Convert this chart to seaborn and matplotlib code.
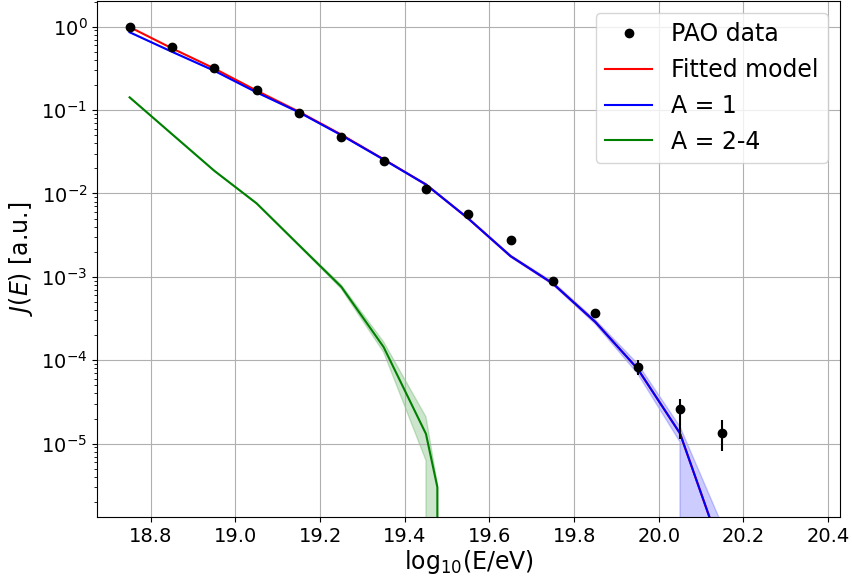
"""
PAO spectrum vs fitted composition model (A = 1 and A = 2-4 components)
"""

import numpy as np
import matplotlib
matplotlib.use("Agg")
import matplotlib.pyplot as plt
from matplotlib.lines import Line2D
import seaborn as sns

# PAO data points (log10 E, flux, error bounds)
pao_x = [18.75, 18.85, 18.95, 19.05, 19.15, 19.25, 19.35, 19.45,
         19.55, 19.65, 19.75, 19.85, 19.95, 20.05, 20.15]
pao_y = [1.0, 0.57, 0.319, 0.174, 0.093, 0.0474, 0.0242, 0.0113,
         0.00564, 0.00273, 0.000902, 0.000373, 8.3e-5, 2.57e-5, 1.35e-5]
pao_lo = [0.99, 0.565, 0.316, 0.172, 0.092, 0.0468, 0.0238, 0.0111,
          0.00552, 0.00264, 0.000864, 0.000351, 6.7e-5, 1.15e-5, 8.1e-6]
pao_hi = [1.01, 0.575, 0.322, 0.176, 0.094, 0.048, 0.0246, 0.0115,
          0.00576, 0.00282, 0.00094, 0.000395, 1.02e-4, 3.39e-5, 1.94e-5]

# model grid for fitted / A = 1
model_x = [18.75, 18.85, 18.95, 19.05, 19.15, 19.25, 19.35, 19.45, 19.55,
           19.65, 19.75, 19.85, 19.95, 20.05, 20.15, 20.25, 20.35]
fit_y = [0.99, 0.55, 0.315, 0.171, 0.0955, 0.0508, 0.0257, 0.0128, 0.0050,
         0.00177, 8.3e-4, 2.88e-4, 7.9e-5, 1.33e-5, 4.8e-7, 0.0, 0.0]
a1_y = [0.857, 0.50, 0.296, 0.163, 0.094, 0.050, 0.0255, 0.0128, 0.0050,
        0.00177, 8.3e-4, 2.88e-4, 7.9e-5, 1.33e-5, 4.8e-7, 0.0, 0.0]
a1_lo = [0.85, 0.496, 0.293, 0.161, 0.093, 0.0494, 0.0251, 0.0125, 0.0049,
         0.00172, 8.0e-4, 2.72e-4, 6.9e-5, 1.05e-5, 0.0, 0.0, 0.0]
a1_hi = [0.864, 0.504, 0.299, 0.165, 0.095, 0.0506, 0.0259, 0.0131, 0.0051,
         0.00182, 8.7e-4, 3.05e-4, 9.1e-5, 1.6e-5, 1.05e-6, 0.0, 0.0]

# A = 2-4 has its own cutoff point
a24_x = [18.75, 18.85, 18.95, 19.05, 19.15, 19.25, 19.35, 19.45, 19.477,
         19.55, 19.65, 19.75, 19.85, 19.95, 20.05, 20.15, 20.25, 20.35]
a24_y = [0.142, 0.0515, 0.0187, 0.0076, 0.0024, 7.6e-4, 1.44e-4, 1.31e-5, 3.0e-6,
         0.0, 0.0, 0.0, 0.0, 0.0, 0.0, 0.0, 0.0, 0.0]
a24_lo = [0.141, 0.051, 0.0185, 0.0075, 0.00235, 7.2e-4, 1.25e-4, 6.3e-6, 0.0,
          0.0, 0.0, 0.0, 0.0, 0.0, 0.0, 0.0, 0.0, 0.0]
a24_hi = [0.143, 0.052, 0.0189, 0.0077, 0.00245, 8.0e-4, 1.66e-4, 2.1e-5, 3.3e-6,
          0.0, 0.0, 0.0, 0.0, 0.0, 0.0, 0.0, 0.0, 0.0]

plt.rcParams["font.family"] = ["DejaVu Sans"]
FS_TICK = 14
FS_LAB = 17

fig = plt.figure(figsize=(8.53, 5.86), dpi=100)
ax = fig.add_axes([97 / 853, 69 / 586, 743 / 853, 516 / 586])
ax.set_yscale("log")

sns.lineplot(x=model_x, y=fit_y, color="r", lw=1.5, estimator=None, sort=False, ax=ax)
sns.lineplot(x=model_x, y=a1_y, color="b", lw=1.5, estimator=None, sort=False, ax=ax)
ax.fill_between(model_x, a1_lo, a1_hi, color="b", alpha=0.2)
sns.lineplot(x=a24_x, y=a24_y, color="g", lw=1.5, estimator=None, sort=False, ax=ax)
ax.fill_between(a24_x, a24_lo, a24_hi, color="g", alpha=0.2)

pao_y_arr = np.array(pao_y)
yerr = [pao_y_arr - np.array(pao_lo), np.array(pao_hi) - pao_y_arr]
ax.errorbar(pao_x, pao_y, yerr=yerr, fmt="none", ecolor="k", elinewidth=1.5, zorder=3)
ax.plot(pao_x, pao_y, "ko", ms=6, zorder=4)

ax.set_xlim(18.673, 20.428)
ax.set_ylim(1.32e-6, 2.03)
ax.set_xticks([18.8, 19.0, 19.2, 19.4, 19.6, 19.8, 20.0, 20.2, 20.4])
ax.grid(True, which="major", color="#b0b0b0", lw=0.8)
ax.tick_params(labelsize=FS_TICK)
ax.set_xlabel(r"log$_{10}$(E/eV)", fontsize=FS_LAB, labelpad=2)
ax.set_ylabel(r"$J(E)$ [a.u.]", fontsize=FS_LAB, labelpad=4)

handles = [
    Line2D([], [], color="k", marker="o", ls="none", ms=6),
    Line2D([], [], color="r", lw=1.5),
    Line2D([], [], color="b", lw=1.5),
    Line2D([], [], color="g", lw=1.5),
]
labels = ["PAO data", "Fitted model", "A = 1", "A = 2-4"]
ax.legend(handles, labels, loc="upper right", fontsize=FS_LAB)

plt.savefig("out.png", dpi=100)
